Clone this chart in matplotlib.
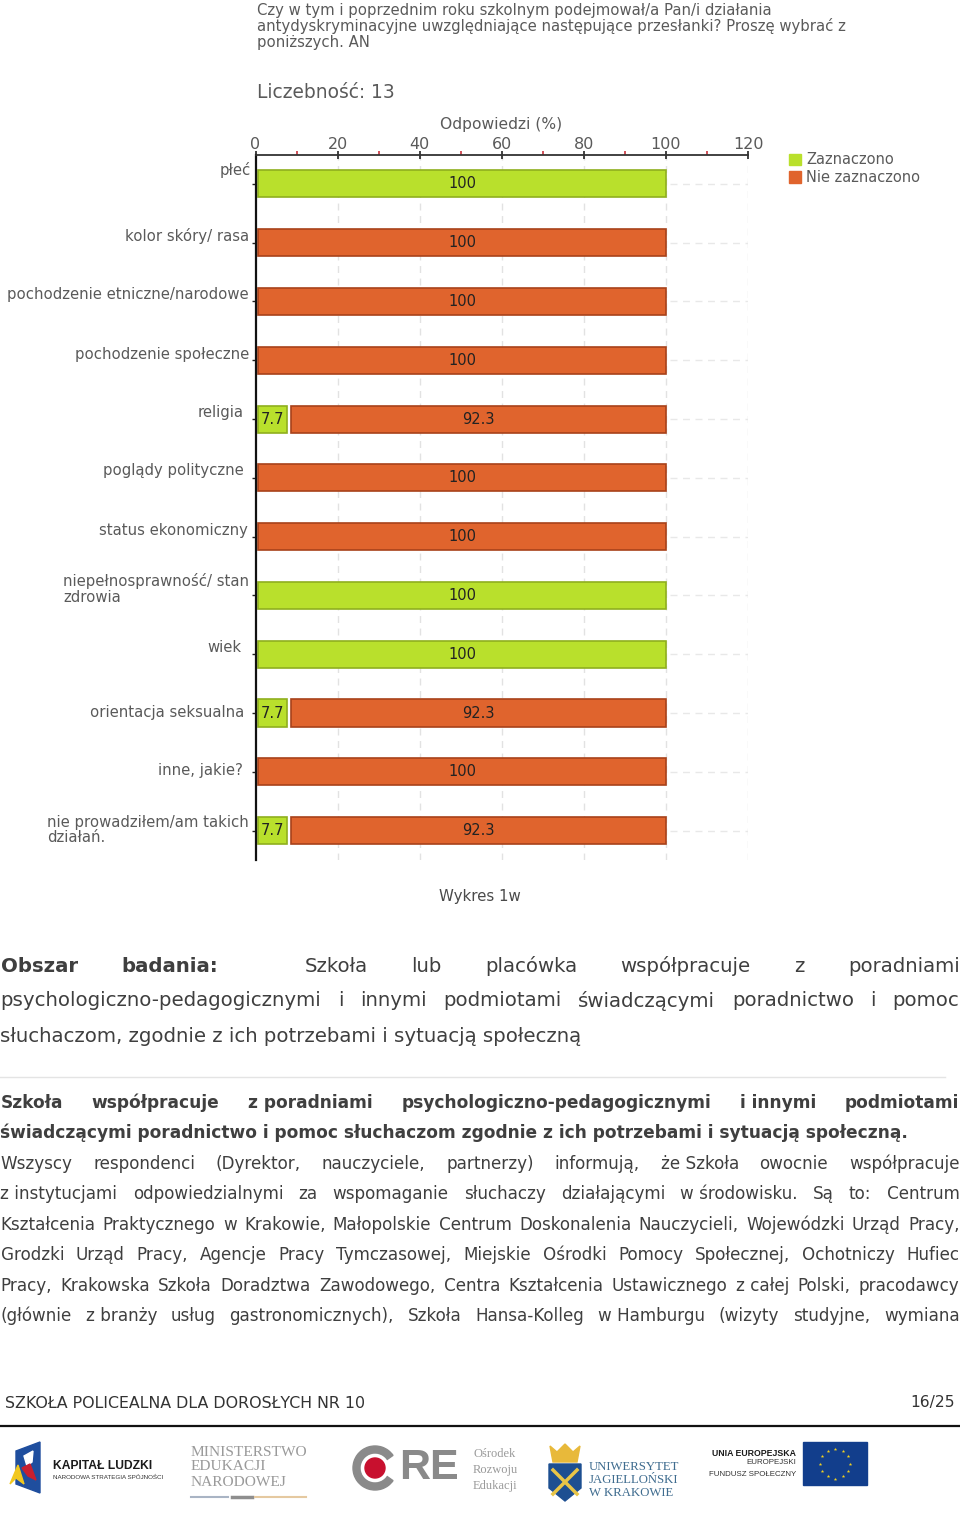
import matplotlib
matplotlib.use("Agg")
import matplotlib.pyplot as plt
from matplotlib.patches import Circle, Polygon, Rectangle, Wedge
import numpy as np

W, H = 960, 1514

CATEGORIES = ["płeć", "kolor skóry/ rasa", "pochodzenie etniczne/narodowe",
              "pochodzenie społeczne", "religia", "poglądy polityczne",
              "status ekonomiczny", "niepełnosprawność/ stan\nzdrowia", "wiek",
              "orientacja seksualna", "inne, jakie?",
              "nie prowadziłem/am takich\ndziałań."]
ZAZNACZONO = [100, 0, 0, 0, 7.7, 0, 0, 100, 100, 7.7, 0, 7.7]
NIE_ZAZNACZONO = [0, 100, 100, 100, 92.3, 100, 100, 0, 0, 92.3, 100, 92.3]
X_TICKS = [0, 20, 40, 60, 80, 100, 120]
X_MINOR = [10, 30, 50, 70, 90, 110]
SERIES_NAMES = ["Zaznaczono", "Nie zaznaczono"]

QUESTION = ["Czy w tym i poprzednim roku szkolnym podejmował/a Pan/i działania",
            "antydyskryminacyjne uwzględniające następujące przesłanki? Proszę wybrać z",
            "poniższych. AN"]
COUNT_LABEL = "Liczebność: 13"
AXIS_TITLE = "Odpowiedzi (%)"
CAPTION = "Wykres 1w"

HEADING = [
    ("Obszar|badania:||Szkoła|lub|placówka|współpracuje|z|poradniami", True),
    ("psychologiczno-pedagogicznymi|i|innymi|podmiotami|świadczącymi|poradnictwo|i|pomoc", True),
    ("słuchaczom, zgodnie z ich potrzebami i sytuacją społeczną", False),
]
BODY = [
    ("Szkoła|współpracuje|z poradniami|psychologiczno-pedagogicznymi|i innymi|podmiotami", True),
    ("świadczącymi poradnictwo i pomoc słuchaczom zgodnie z ich potrzebami i sytuacją społeczną.", False),
    ("Wszyscy|respondenci|(Dyrektor,|nauczyciele,|partnerzy)|informują,|że Szkoła|owocnie|współpracuje", True),
    ("z instytucjami|odpowiedzialnymi|za|wspomaganie|słuchaczy|działającymi|w środowisku.|Są|to:|Centrum", True),
    ("Kształcenia|Praktycznego|w|Krakowie,|Małopolskie|Centrum|Doskonalenia|Nauczycieli,|Wojewódzki|Urząd|Pracy,", True),
    ("Grodzki|Urząd|Pracy,|Agencje|Pracy|Tymczasowej,|Miejskie|Ośrodki|Pomocy|Społecznej,|Ochotniczy|Hufiec", True),
    ("Pracy,|Krakowska|Szkoła|Doradztwa|Zawodowego,|Centra|Kształcenia|Ustawicznego|z całej|Polski,|pracodawcy", True),
    ("(głównie|z branży|usług|gastronomicznych),|Szkoła|Hansa-Kolleg|w Hamburgu|(wizyty|studyjne,|wymiana", True),
]
FOOTER_LEFT = "SZKOŁA POLICEALNA DLA DOROSŁYCH NR 10"
FOOTER_RIGHT = "16/25"

GREEN, GREEN_EDGE = "#B9E02C", "#8FAF1E"
ORANGE, ORANGE_EDGE = "#E0642D", "#A8421A"
GREY = "#5A5A5A"
TEXT = "#4A4A4A"

# label placement in pixels, the original chart is not regular here
LABEL_RIGHT = [251, 249, 249, 249, 244, 244, 248, 249, 242, 244, 243, 249]
LABEL_Y = [170, 236, 294, 354, 413, 471, 530, 589, 647, 712, 771, 830]
BAR_INSET = 0.6
BAR_GAP = 0.9

fig = plt.figure(figsize=(W / 100, H / 100), dpi=100, facecolor="white")

# overlay in pixel coordinates for page text and logos
page = fig.add_axes([0, 0, 1, 1])
page.set_xlim(0, W)
page.set_ylim(H, 0)
page.axis("off")

left, right, top, bottom = 255.5, 748, 154.5, 860
ax = fig.add_axes([left / W, 1 - bottom / H, (right - left) / W, (bottom - top) / H])
ax.patch.set_alpha(0)
y = np.arange(len(CATEGORIES))
ax.set_xlim(0, 120)
ax.set_ylim(len(CATEGORIES) - 0.5, -0.5)

# grid goes under the bars
for t in X_TICKS[1:]:
    ax.axvline(t, color="#E2E2E2", lw=1, ls=(0, (5, 4)), zorder=1)
for yi in y:
    ax.plot([101, 120], [yi, yi], color="#E8E8E8", lw=1, ls=(0, (5, 4)), zorder=1)

bar_h = 0.46
zaz = np.array(ZAZNACZONO)
nie = np.array(NIE_ZAZNACZONO)
has_zaz = zaz > 0
has_nie = nie > 0
ax.barh(y[has_zaz], zaz[has_zaz] - BAR_INSET, left=BAR_INSET, height=bar_h, color=GREEN,
        edgecolor=GREEN_EDGE, lw=1.2, zorder=2, label=SERIES_NAMES[0])
nie_left = np.where(zaz > 0, zaz + BAR_GAP, BAR_INSET)
ax.barh(y[has_nie], (100 - nie_left)[has_nie], left=nie_left[has_nie], height=bar_h, color=ORANGE,
        edgecolor=ORANGE_EDGE, lw=1.2, zorder=2, label=SERIES_NAMES[1])

for i in y:
    if zaz[i] > 0:
        ax.text((BAR_INSET + zaz[i]) / 2, i, f"{zaz[i]:g}", ha="center", va="center",
                fontsize=10.5, color="#222222", zorder=3)
    if nie[i] > 0:
        ax.text((nie_left[i] + 100) / 2, i, f"{nie[i]:g}", ha="center", va="center",
                fontsize=10.5, color="#222222", zorder=3)

ax.xaxis.tick_top()
ax.set_xticks(X_TICKS)
ax.set_xticklabels([str(t) for t in X_TICKS], fontsize=11.5, color=GREY)
ax.set_xticks(X_MINOR, minor=True)
ax.tick_params(axis="x", which="major", direction="inout", length=6, width=1.2, color="#222222", pad=-1)
ax.tick_params(axis="x", which="minor", length=3, width=1.2, color="#C8323C")
ax.set_yticks(y)
ax.set_yticklabels([])
ax.tick_params(axis="y", length=3, width=1, color="#222222")
for s in ["right", "bottom"]:
    ax.spines[s].set_visible(False)
ax.spines["left"].set_linewidth(1.6)
ax.spines["left"].set_color("#111111")
ax.spines["top"].set_linewidth(1.3)
ax.spines["top"].set_color("#333333")

for name, rx, ly in zip(CATEGORIES, LABEL_RIGHT, LABEL_Y):
    lines = name.split("\n")
    if len(lines) == 1:
        page.text(rx, ly, name, ha="right", va="center", fontsize=10.7, color=GREY)
    else:
        # two line labels start flush left of the longest line
        t = page.text(rx, ly - 8, lines[0], ha="right", va="center", fontsize=10.7, color=GREY)
        x0 = t.get_window_extent(fig.canvas.get_renderer()).x0
        page.text(x0, ly + 8, lines[1], ha="left", va="center", fontsize=10.7, color=GREY)

for line, ly in zip(QUESTION, [11, 26, 42]):
    page.text(257, ly, line, ha="left", va="center", fontsize=10.72, color=GREY)
page.text(257, 92, COUNT_LABEL, ha="left", va="center", fontsize=13.4, color=GREY)
page.text(501, 124, AXIS_TITLE, ha="center", va="center", fontsize=11.2, color=GREY)

handles, labels = ax.get_legend_handles_labels()
ax.legend([Rectangle((0, 0), 1, 1, color=GREEN), Rectangle((0, 0), 1, 1, color=ORANGE)], labels,
          loc="upper left", bbox_to_anchor=(779 / W, 1 - 142 / H), bbox_transform=fig.transFigure,
          frameon=False, fontsize=10.5, labelcolor=GREY, handlelength=0.8, handleheight=0.8,
          handletextpad=0.35, labelspacing=0.2, borderpad=0.2)

page.text(480, 896, CAPTION, ha="center", va="center", fontsize=10.8, color=TEXT)


def justified(line, ly, size, spread, first_bold=0, bold_all=False, color="#3F3F3F"):
    """Draw one text line, spreading words across the page when asked."""
    rend = fig.canvas.get_renderer()
    if not spread:
        page.text(0, ly, line, ha="left", va="center", fontsize=size, color=color,
                  fontweight="bold" if bold_all else "normal")
        return
    words = line.split("|")
    arts = []
    for k, w in enumerate(words):
        bold = bold_all or k < first_bold
        arts.append(page.text(0, ly, w, ha="left", va="center", fontsize=size, color=color,
                              fontweight="bold" if bold else "normal"))
    widths = [a.get_window_extent(rend).width if a.get_text() else 0 for a in arts]
    gap = (W - 1 - sum(widths)) / (len(words) - 1)
    x = 0.5
    for a, wd in zip(arts, widths):
        a.set_x(x)
        x += wd + gap


for k, ((line, spread), ly) in enumerate(zip(HEADING, [966, 1001, 1037])):
    justified(line, ly, 14.25, spread, first_bold=2 if k == 0 else 0)

page.plot([0, 945], [1077, 1077], color="#E4E4E4", lw=1)

for k, ((line, spread), ly) in enumerate(zip(BODY, [1103, 1133, 1164, 1194, 1225, 1255, 1286, 1316])):
    justified(line, ly, 12.1 if k > 1 else 12.25, spread, bold_all=k < 2)

page.text(5, 1403, FOOTER_LEFT, ha="left", va="center", fontsize=11.4, color="#333333")
page.text(955, 1403, FOOTER_RIGHT, ha="right", va="center", fontsize=11.2, color="#333333")
page.plot([0, W], [1426, 1426], color="#111111", lw=1.6)

# logos along the bottom
sans = ["Liberation Sans", "DejaVu Sans"]
serif = ["Liberation Serif", "DejaVu Serif"]

page.add_patch(Polygon([(16, 1451), (40, 1442), (40, 1493), (16, 1484)], color="#1F4E9E"))
page.add_patch(Polygon([(24, 1456), (33, 1451), (32, 1462), (27, 1466)], color="white"))
page.add_patch(Polygon([(22, 1468), (30, 1464), (36, 1480), (28, 1476)], color="#C8202F"))
page.add_patch(Polygon([(10, 1484), (18, 1465), (24, 1484), (16, 1478)], color="#F2C81E"))
page.text(53, 1466, "KAPITAŁ LUDZKI", ha="left", va="center", fontsize=8.7, fontweight="bold",
          family=sans, color="#1B1B1B")
page.text(53, 1477, "NARODOWA STRATEGIA SPÓJNOŚCI", ha="left", va="center", fontsize=4.5,
          family=sans, color="#333333")

for txt, ly in zip(["MINISTERSTWO", "EDUKACJI", "NARODOWEJ"], [1452, 1467, 1483]):
    page.text(191, ly, txt, ha="left", va="center", fontsize=11.1, family=serif, color="#9A9A9A")
page.plot([191, 228], [1497, 1497], color="#A9B4C4", lw=1.5)
page.plot([232, 252], [1497, 1497], color="#8E8E8E", lw=2.5)
page.plot([255, 306], [1497, 1497], color="#E5C9A0", lw=1.5)

page.add_patch(Wedge((375, 1468), 22, 35, 325, width=7, color="#8A8A8A"))
page.add_patch(Circle((375, 1468), 10, color="#C8102E"))
page.text(429, 1468, "RE", ha="center", va="center", fontsize=31, fontweight="bold", family=sans,
          color="#8A8A8A")
for txt, ly in zip(["Ośrodek", "Rozwoju", "Edukacji"], [1454, 1470, 1486]):
    page.text(473, ly, txt, ha="left", va="center", fontsize=9, color="#9A9A9A", family=serif)

page.add_patch(Polygon([(550, 1446), (557, 1452), (565, 1444), (573, 1452), (580, 1446), (577, 1462), (553, 1462)],
                       color="#E8B93A"))
page.add_patch(Polygon([(549, 1464), (581, 1464), (581, 1488), (565, 1501), (549, 1488)], color="#1D4F91"))
page.plot([553, 577], [1470, 1494], color="#E8C547", lw=2.5)
page.plot([577, 553], [1470, 1494], color="#E8C547", lw=2.5)
for txt, ly in zip(["UNIWERSYTET", "JAGIELLOŃSKI", "W KRAKOWIE"], [1467, 1480, 1493]):
    page.text(589, ly, txt, ha="left", va="center", fontsize=9.2, family=serif, color="#3F6C8F")

page.text(796, 1453, "UNIA EUROPEJSKA", ha="right", va="center", fontsize=6.3, fontweight="bold",
          family=sans, color="#1B1B1B")
page.text(796, 1463, "EUROPEJSKI", ha="right", va="center", fontsize=5.7, family=sans, color="#333333")
page.text(796, 1474, "FUNDUSZ SPOŁECZNY", ha="right", va="center", fontsize=5.7, family=sans, color="#333333")
page.add_patch(Rectangle((803, 1442), 64, 43, color="#123E8C"))
angles = np.deg2rad(np.arange(0, 360, 30))
page.scatter(835 + 15 * np.cos(angles), 1463.5 + 15 * np.sin(angles), s=7, marker="*", color="#F5D31E", lw=0)

fig.savefig("out.png", dpi=100)
